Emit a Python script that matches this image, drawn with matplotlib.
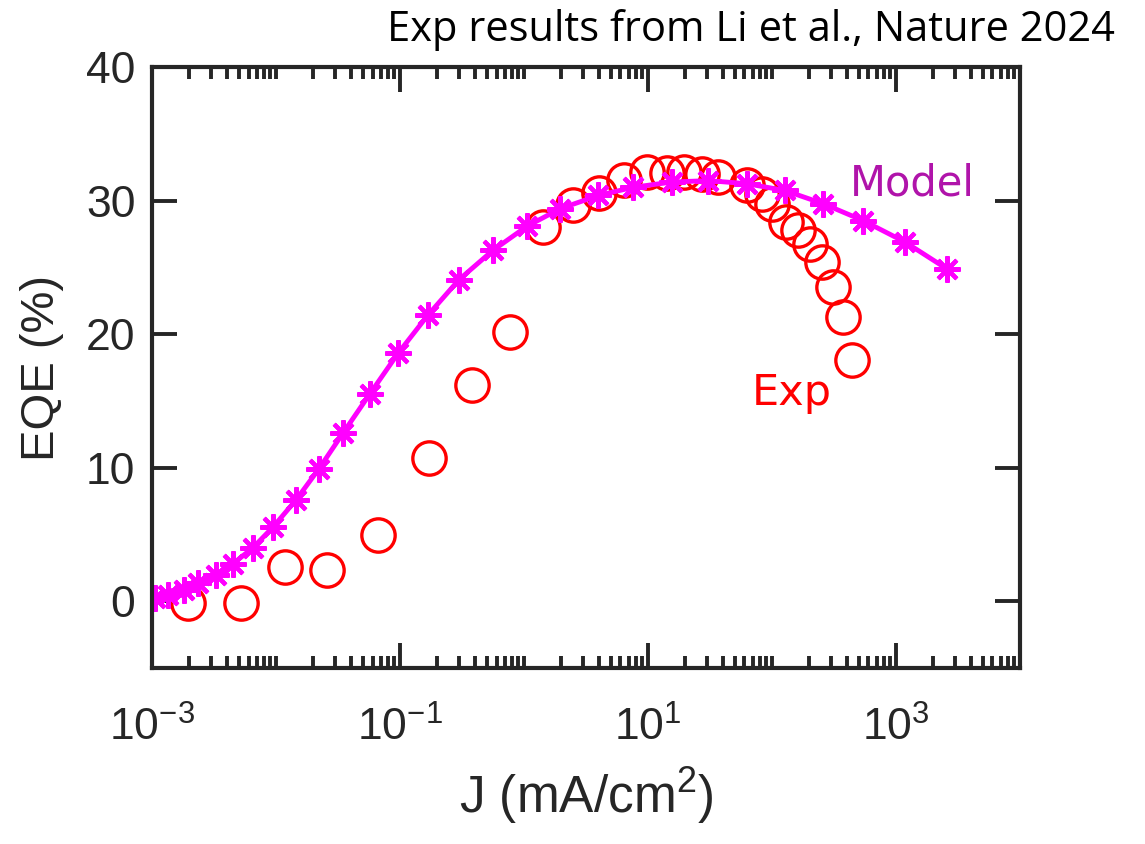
import numpy as np
import matplotlib
matplotlib.use("Agg")
import matplotlib.pyplot as plt
from matplotlib.ticker import FixedLocator, LogLocator, NullFormatter

# Model curve (magenta asterisks)
model_j = [1.057e-3, 1.346e-3, 1.811e-3, 2.350e-3, 3.281e-3, 4.498e-3, 6.53e-3,
           9.46e-3, 1.442e-2, 2.223e-2, 3.49e-2, 5.73e-2, 9.68e-2, 0.167, 0.299,
           0.560, 1.052, 1.95, 3.98, 7.62, 15.5, 30.6, 62.5, 127, 259, 545,
           1183, 2564]
model_eqe = [0.26, 0.49, 0.86, 1.35, 1.95, 2.81, 4.02, 5.56, 7.56, 9.93, 12.63,
             15.55, 18.59, 21.4, 24.08, 26.27, 28.07, 29.39, 30.39, 31.0, 31.39,
             31.5, 31.27, 30.76, 29.77, 28.5, 26.9, 24.9]

# Experimental data (red open circles)
exp_j = [1.963e-3, 5.19e-3, 1.183e-2, 2.564e-2, 6.68e-2, 0.172, 0.383, 0.771,
         1.432, 2.506, 4.03, 6.46, 9.75, 14.29, 19.68, 27.1, 36.6, 62.4, 83.0,
         100.7, 130.3, 162.9, 203.7, 254.7, 309, 374, 440]
exp_eqe = [-0.1, -0.1, 2.57, 2.37, 4.94, 10.76, 16.17, 20.16, 28.02, 29.64,
           30.54, 31.51, 32.13, 32.07, 32.13, 31.96, 31.76, 31.14, 30.52, 29.77,
           28.39, 27.77, 26.77, 25.40, 23.53, 21.28, 18.04]

x_ticks = [1e-3, 1e-1, 1e1, 1e3]
x_ticklabels = ["$\\mathregular{10^{-3}}$", "$\\mathregular{10^{-1}}$",
                "$\\mathregular{10^{1}}$", "$\\mathregular{10^{3}}$"]
y_ticks = [0, 10, 20, 30, 40]

plt.rcParams["font.family"] = ["Liberation Sans", "DejaVu Sans"]
plt.rcParams["mathtext.fontset"] = "custom"
plt.rcParams["mathtext.rm"] = "Liberation Sans"

fig = plt.figure(figsize=(11.45, 8.44), dpi=100)
ax = fig.add_axes([0.1328, 0.2085, 0.758, 0.712])

dark = "#262626"
ax.plot(exp_j, exp_eqe, linestyle="none", marker="o", markersize=24,
        markerfacecolor="none", markeredgecolor="#ff0000", markeredgewidth=2.4)
ax.plot(model_j, model_eqe, color="#ff00ff", linewidth=3.5, marker=(8, 2, 0),
        markersize=19, markeredgewidth=3.0, markeredgecolor="#ff00ff")

ax.set_xscale("log")
ax.set_xlim(1e-3, 1e4)
ax.set_ylim(-5, 40)
ax.xaxis.set_major_locator(FixedLocator(x_ticks))
ax.set_xticklabels(x_ticklabels)
ax.xaxis.set_minor_locator(LogLocator(base=10, subs=np.arange(1, 10), numticks=50))
ax.xaxis.set_minor_formatter(NullFormatter())
ax.set_yticks(y_ticks)

for s in ax.spines.values():
    s.set_linewidth(3)
    s.set_color(dark)
ax.tick_params(which="both", direction="in", top=True, right=True, color=dark,
               width=2.8, labelsize=32, labelcolor=dark)
ax.tick_params(which="major", length=18)
ax.tick_params(which="minor", length=8.5)
ax.tick_params(axis="x", which="major", pad=28)
ax.tick_params(axis="y", which="major", pad=12)

ax.set_xlabel("J (mA/cm$\\mathregular{^2}$)", fontsize=37, color=dark, labelpad=11)
ax.set_ylabel("EQE (%)", fontsize=34, color=dark, labelpad=16)

ax.text(1346, 31.3, "Model", color="#b014aa", fontsize=30,
        family=["DejaVu Sans"], ha="center", va="center")
ax.text(145, 15.6, "Exp", color="#ff0000", fontsize=31,
        family=["DejaVu Sans"], ha="center", va="center")

fig.text(1115 / 1145, 1 - 30 / 844, "Exp results from Li et al., Nature 2024",
         fontsize=30, family=["Open Sans", "DejaVu Sans"], ha="right", va="center")

fig.savefig("out.png", dpi=100)
